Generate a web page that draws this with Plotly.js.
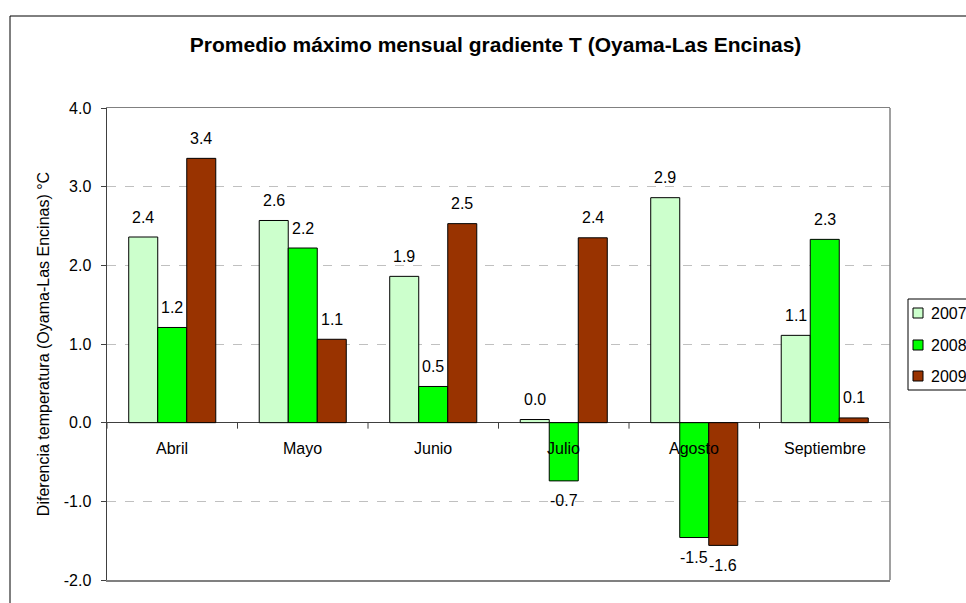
<!DOCTYPE html>
<html>
<head>
<meta charset="utf-8">
<script src="https://cdn.plot.ly/plotly-3.0.1.min.js"></script>
<style>html,body{margin:0;padding:0;background:#fff;}#chart{width:966px;height:603px;}</style>
</head>
<body>
<div id="chart"></div>
<script>
const categories = ["Abril", "Mayo", "Junio", "Julio", "Agosto", "Septiembre"];
const seriesNames = ["2007", "2008", "2009"];
const values2007 = [2.36, 2.57, 1.86, 0.04, 2.86, 1.11];
const values2008 = [1.21, 2.22, 0.46, -0.74, -1.46, 2.33];
const values2009 = [3.36, 1.06, 2.53, 2.35, -1.56, 0.06];
const colors = ["#CCFFCC", "#00FF00", "#993300"];
const yTicks = [-2, -1, 0, 1, 2, 3, 4];
const yTickLabels = ["-2.0", "-1.0", "0.0", "1.0", "2.0", "3.0", "4.0"];

const allSeries = [values2007, values2008, values2009];
const W = 966, H = 603;
const margin = {l: 107, r: 76, t: 108, b: 23};
const bargap = 0.333;
const plotW = W - margin.l - margin.r;
const plotH = H - margin.t - margin.b;
const barPx = plotW / categories.length * (1 - bargap) / allSeries.length;
const px2x = px => (px - margin.l) / plotW;
const py2y = py => (H - margin.b - py) / plotH;

const FONT = "Liberation Sans, Arial, sans-serif";

const traces = allSeries.map((vals, i) => ({
  type: "bar",
  name: seriesNames[i],
  x: categories,
  y: vals,
  marker: {color: colors[i], line: {color: "#000", width: 1}},
  hoverinfo: "x+y"
}));

const annotations = [];
allSeries.forEach((vals, i) => {
  vals.forEach((v, j) => {
    annotations.push({
      x: categories[j], y: v, xref: "x", yref: "y",
      text: v.toFixed(1), showarrow: false,
      xshift: (i - 1) * barPx,
      yshift: v >= 0 ? 20 : -20,
      yanchor: "middle",
      font: {family: FONT, size: 16, color: "#000"}
    });
  });
});
categories.forEach(c => {
  annotations.push({
    x: c, y: 0, xref: "x", yref: "y", text: c, showarrow: false,
    yshift: -26, yanchor: "middle",
    font: {family: FONT, size: 16, color: "#000"}
  });
});

const shapes = [];
for (let k = 0; k <= categories.length; k++) {
  shapes.push({type: "line", xref: "x", yref: "y", x0: k - 0.5, x1: k - 0.5,
    ysizemode: "pixel", yanchor: 0, y0: 0, y1: -6,
    line: {color: "#404040", width: 1}});
}
shapes.push({type: "line", xref: "paper", yref: "paper", x0: 1, x1: 1, y0: 0, y1: 1,
  line: {color: "#808080", width: 1.5}});
shapes.push({type: "rect", xref: "paper", yref: "paper",
  x0: px2x(10), x1: 1.3, y0: -0.2, y1: py2y(16),
  line: {color: "#000", width: 1}, fillcolor: "rgba(0,0,0,0)", layer: "below"});

// legend (box, swatches, labels) built from seriesNames and colors
const legendTop = 299, legendBottom = 390, legendLeft = 908;
const legendRowY = [313, 345, 376];
shapes.push({type: "rect", xref: "paper", yref: "paper",
  x0: px2x(legendLeft), x1: px2x(1000), y0: py2y(legendBottom), y1: py2y(legendTop),
  line: {color: "#000", width: 1}, fillcolor: "#fff"});
seriesNames.forEach((name, i) => {
  const cy = legendRowY[i];
  shapes.push({type: "rect", xref: "paper", yref: "paper",
    x0: px2x(913), x1: px2x(923), y0: py2y(cy + 5), y1: py2y(cy - 5),
    line: {color: "#000", width: 1}, fillcolor: colors[i]});
  annotations.push({xref: "paper", yref: "paper", x: px2x(929), y: py2y(cy),
    xanchor: "left", yanchor: "middle", text: name, showarrow: false,
    font: {family: FONT, size: 16, color: "#000"}});
});

const layout = {
  width: W, height: H,
  margin: Object.assign({autoexpand: false, pad: 0}, margin),
  paper_bgcolor: "#fff", plot_bgcolor: "#fff",
  font: {family: FONT, size: 16, color: "#000"},
  title: {
    text: "<b>Promedio máximo mensual gradiente T (Oyama-Las Encinas)</b>",
    font: {family: FONT, size: 21, color: "#000"},
    xref: "container", yref: "container", x: 0.513, y: 1 - 45 / H,
    xanchor: "center", yanchor: "middle"
  },
  barmode: "group", bargap: bargap, bargroupgap: 0,
  showlegend: false,
  xaxis: {
    type: "category", showticklabels: false, ticks: "",
    showgrid: false, zeroline: false,
    showline: true, mirror: true, linecolor: "#808080", linewidth: 1.5,
    range: [-0.5, categories.length - 0.5], fixedrange: true
  },
  yaxis: {
    range: [-2, 4], tickvals: yTicks, ticktext: yTickLabels,
    ticks: "outside", ticklen: 5, tickcolor: "#404040", ticklabelstandoff: 6,
    showline: true, linecolor: "#404040", linewidth: 1.5,
    showgrid: true, gridcolor: "#c0c0c0", griddash: "dash", gridwidth: 1,
    zeroline: true, zerolinecolor: "#404040", zerolinewidth: 1.5,
    tickfont: {family: FONT, size: 16, color: "#000"},
    title: {text: "Diferencia temperatura (Oyama-Las Encinas) °C",
      font: {family: FONT, size: 16, color: "#000"}, standoff: 10},
    fixedrange: true
  },
  annotations: annotations,
  shapes: shapes
};

Plotly.newPlot("chart", traces, layout, {displayModeBar: false, staticPlot: true});
</script>
</body>
</html>
